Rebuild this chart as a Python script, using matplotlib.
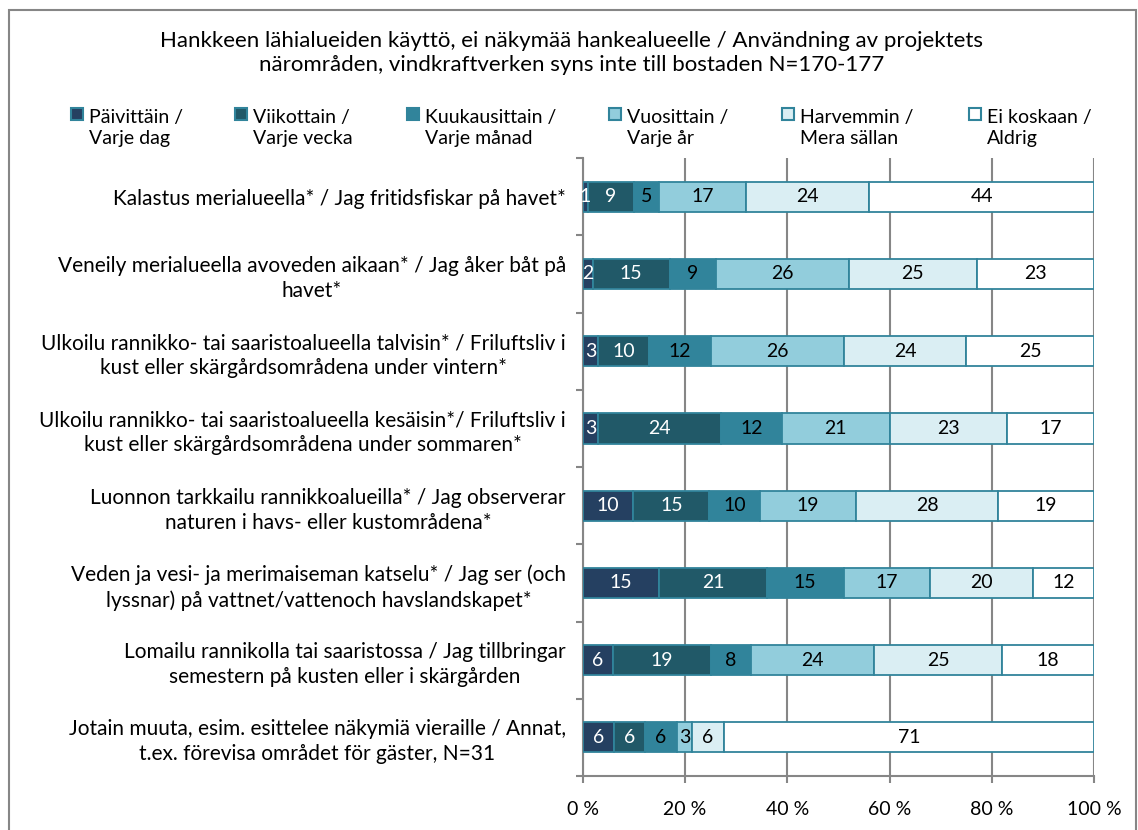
import matplotlib.pyplot as plt
from matplotlib.patches import Rectangle
import numpy as np

plt.rcParams['font.family'] = ['Lato', 'DejaVu Sans']

# Data, rows top to bottom
categories = [
    'Kalastus merialueella* / Jag fritidsfiskar på havet*',
    'Veneily merialueella avoveden aikaan* / Jag åker båt på\nhavet*',
    'Ulkoilu rannikko- tai saaristoalueella talvisin* / Friluftsliv i\nkust eller skärgårdsområdena under vintern*',
    'Ulkoilu rannikko- tai saaristoalueella kesäisin*/ Friluftsliv i\nkust eller skärgårdsområdena under sommaren*',
    'Luonnon tarkkailu rannikkoalueilla* / Jag observerar\nnaturen i havs- eller kustområdena*',
    'Veden ja vesi- ja merimaiseman katselu* / Jag ser (och\nlyssnar) på vattnet/vattenoch havslandskapet*',
    'Lomailu rannikolla tai saaristossa / Jag tillbringar\nsemestern på kusten eller i skärgården',
    'Jotain muuta, esim. esittelee näkymiä vieraille / Annat,\nt.ex. förevisa området för gäster, N=31',
]

series = ['Päivittäin /\nVarje dag', 'Viikottain /\nVarje vecka', 'Kuukausittain /\nVarje månad',
          'Vuosittain /\nVarje år', 'Harvemmin /\nMera sällan', 'Ei koskaan /\nAldrig']

paivittain = [1, 2, 3, 3, 10, 15, 6, 6]
viikottain = [9, 15, 10, 24, 15, 21, 19, 6]
kuukausittain = [5, 9, 12, 12, 10, 15, 8, 6]
vuosittain = [17, 26, 26, 21, 19, 17, 24, 3]
harvemmin = [24, 25, 24, 23, 28, 20, 25, 6]
ei_koskaan = [44, 23, 25, 17, 19, 12, 18, 71]

colors = ['#254061', '#215968', '#31849B', '#92CDDC', '#DAEEF3', '#FFFFFF']
text_colors = ['white', 'white', 'black', 'black', 'black', 'black']
edge = '#31849B'
grey = '#868686'

values = np.array([paivittain, viikottain, kuukausittain, vuosittain, harvemmin, ei_koskaan], dtype=float)
shares = values / values.sum(axis=0) * 100  # 100 % stacked

W, H = 1138, 830
fig = plt.figure(figsize=(W / 100, H / 100), dpi=100)
ax = fig.add_axes([0.512, 0.065, 0.4495, 0.7445])

y = np.arange(len(categories))
left = np.zeros(len(categories))
for i in range(len(series)):
    ax.barh(y, shares[i], left=left, height=0.39, color=colors[i],
            edgecolor=edge, linewidth=1.3, zorder=3)
    for j in range(len(categories)):
        ax.text(left[j] + shares[i][j] / 2, y[j], f'{int(values[i][j])}',
                ha='center', va='center', fontsize=14, color=text_colors[i], zorder=4)
    left += shares[i]

ax.set_xlim(0, 100)
ax.set_ylim(len(categories) - 0.5, -0.5)
ax.set_xticks(range(0, 101, 20))
ax.set_xticklabels([f'{v} %' for v in range(0, 101, 20)], fontsize=14)
ax.tick_params(axis='x', length=5, width=1.5, color=grey, pad=13)

ax.set_yticks(y)
ax.set_yticklabels(categories, fontsize=15)
for t in ax.get_yticklabels():
    t.set_multialignment('center')
    t.set_linespacing(1.3)
ax.set_yticks(np.arange(len(categories) + 1) - 0.5, minor=True)
ax.tick_params(axis='y', which='major', length=0, pad=12)
ax.tick_params(axis='y', which='minor', length=5, width=1.5, color=grey)

ax.grid(axis='x', color=grey, linewidth=1.5, zorder=0)
for s in ['top', 'right']:
    ax.spines[s].set_visible(False)
for s in ['left', 'bottom']:
    ax.spines[s].set_color(grey)
    ax.spines[s].set_linewidth(1.5)

fig.text(0.502, 1 - 53 / H, 'Hankkeen lähialueiden käyttö, ei näkymää hankealueelle / Användning av projektets\n'
         'närområden, vindkraftverken syns inte till bostaden N=170-177',
         ha='center', va='center', fontsize=16, linespacing=1.2)

# legend: square next to the first line, two left-aligned text lines
legend_x = [89, 253, 425, 627, 800, 987]
for lx, c, lab in zip(legend_x, colors, series):
    fig.patches.append(Rectangle(((lx - 18) / W, 1 - 120 / H), 12 / W, 12 / H,
                                 transform=fig.transFigure, facecolor=c,
                                 edgecolor=edge, linewidth=1.5))
    fig.text(lx / W, 1 - 128 / H, lab, ha='left', va='center',
             fontsize=14, linespacing=1.3)

fig.patches.append(Rectangle((9 / W, -0.1), 1127 / W, 1.1 - 10 / H,
                             transform=fig.transFigure, fill=False,
                             edgecolor=grey, linewidth=1.5))

fig.savefig('out.png', dpi=100)
